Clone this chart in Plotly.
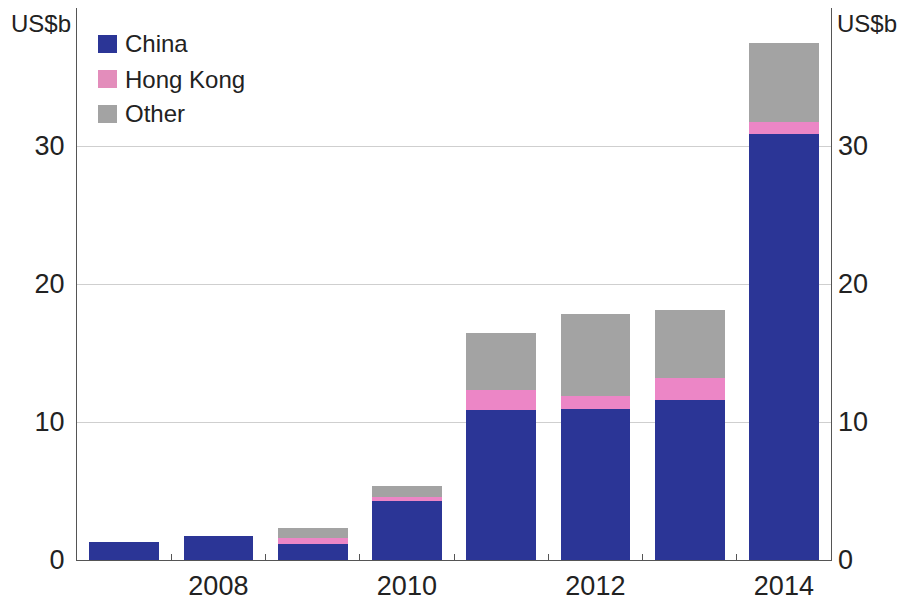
import plotly.graph_objects as go

years = [2007, 2008, 2009, 2010, 2011, 2012, 2013, 2014]
china = [1.28, 1.71, 1.19, 4.31, 10.84, 10.96, 11.56, 30.89]
hong_kong = [0.0, 0.0, 0.41, 0.29, 1.49, 0.96, 1.64, 0.84]
other = [0.0, 0.0, 0.72, 0.77, 4.15, 5.89, 4.90, 5.70]
series_names = ["China", "Hong Kong", "Other"]
series_colors = ["#2B3596", "#EC86C6", "#A3A3A3"]
legend_colors = ["#2B3596", "#E38DBB", "#A3A3A3"]
x_labels = [2008, 2010, 2012, 2014]
y_ticks = [0, 10, 20, 30]

FONT = "Liberation Sans, Arial, sans-serif"
OFF = 8  # page body margin
W, H = 909 - 2 * OFF, 609 - 2 * OFF
L, R, T, B = 77 - OFF, 831 - OFF, 0, 560 - OFF
PW, PH = R - L, B - T

fig = go.Figure()
for name, vals, col in zip(series_names, [china, hong_kong, other], series_colors):
    fig.add_trace(go.Bar(x=years, y=vals, name=name, marker_color=col,
                         marker_line_width=0, width=0.74, showlegend=False))
fig.add_trace(go.Scatter(x=[years[0]], y=[0], yaxis="y2", mode="markers",
                         marker_opacity=0, showlegend=False, hoverinfo="skip"))

axis_col = "#555555"
fig.update_layout(
    barmode="stack",
    width=W, height=H,
    margin=dict(l=L, r=W - R, t=T, b=H - B, autoexpand=False),
    paper_bgcolor="white", plot_bgcolor="white",
    font=dict(family=FONT, size=27, color="#222222"),
    xaxis=dict(range=[years[0] - 0.5, years[-1] + 0.5], automargin=False,
               tickvals=x_labels, ticktext=[str(v) for v in x_labels],
               ticks="", showgrid=False, showline=True, linecolor=axis_col,
               linewidth=1, mirror=True, zeroline=False, ticklabelstandoff=2,
               minor=dict(tickvals=[y + 0.5 for y in years[:-1]], ticks="inside",
                          ticklen=6, tickcolor=axis_col, showgrid=False)),
    yaxis=dict(range=[0, 40], tickvals=y_ticks, ticks="", showgrid=True, automargin=False,
               gridcolor="#CFCFCF", gridwidth=1, showline=True, linecolor=axis_col,
               linewidth=1, mirror=True, zeroline=False, ticklabelstandoff=6),
    yaxis2=dict(range=[0, 40], tickvals=y_ticks, overlaying="y", side="right",
                automargin=False,
                ticks="", showgrid=False, zeroline=False, showline=False,
                ticklabelstandoff=6),
)


def py(page_y):
    return (B - (page_y - OFF)) / PH


def px(page_x):
    return ((page_x - OFF) - L) / PW


fig.add_annotation(x=0, y=1, xref="paper", yref="paper", text="US$b",
                   xanchor="right", yanchor="top", xshift=-4,
                   showarrow=False, font=dict(size=24))
fig.add_annotation(x=1, y=1, xref="paper", yref="paper", text="US$b",
                   xanchor="left", yanchor="top", xshift=4,
                   showarrow=False, font=dict(size=24))

# Manual legend
for i, (name, col) in enumerate(zip(series_names, legend_colors)):
    yc = 44 + 35 * i
    fig.add_shape(type="rect", xref="paper", yref="paper",
                  x0=px(98), x1=px(117), y0=py(yc + 9), y1=py(yc - 9),
                  fillcolor=col, line_width=0)
    fig.add_annotation(x=px(123), y=py(yc), xref="paper", yref="paper",
                       text=name, xanchor="left", yanchor="middle", showarrow=False,
                       font=dict(size=24))

fig.write_html("out.html")
